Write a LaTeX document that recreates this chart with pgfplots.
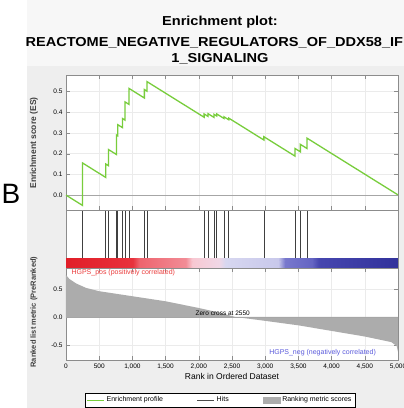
\documentclass[border=0pt]{standalone}
\usepackage{fontspec}
\setmainfont{Liberation Sans}
\usepackage{graphicx}
\usepackage{pgfplots}
\pgfplotsset{compat=1.18}
\definecolor{esgreen}{RGB}{120,205,60}
\definecolor{bg}{RGB}{238,238,238}
\definecolor{framegray}{RGB}{140,140,140}
\definecolor{fillgray}{RGB}{172,172,172}
\definecolor{posred}{RGB}{235,60,60}
\definecolor{negblue}{RGB}{90,90,220}

\pgfplotsset{
  gsea/.style={
    scale only axis, width=332pt, xmin=0, xmax=5000,
    anchor=north west,
    axis background/.style={fill=white},
    axis line style={framegray},
    tick style={framegray},
    tick label style={font=\fontsize{6.5}{7}\selectfont},
    /pgf/number format/assume math mode=true,
    grid style={black!8},
    xtick={0,500,...,5000},
  }
}

\begin{document}
\begin{tikzpicture}
\clip (0,0) rectangle (404pt,-408pt);
\useasboundingbox (0,0) rectangle (404pt,-408pt);
\fill[white] (0,0) rectangle (404pt,-408pt);
\fill[black!3] (27pt,0pt) rectangle (404pt,-66pt);
\fill[bg] (27pt,-66pt) rectangle (404pt,-408pt);

% panel letter and title
\node[font=\fontsize{28}{30}\selectfont] at (11pt,-194pt) {B};
\node[font=\fontsize{13}{14}\selectfont\bfseries] at (220pt,-22pt) {\scalebox{1.12}[1]{Enrichment plot:}};
\node[anchor=west, font=\fontsize{13}{14}\selectfont\bfseries] at (22pt,-43pt) {\scalebox{1.12}[1]{REACTOME\_NEGATIVE\_REGULATORS\_OF\_DDX58\_IFIH}};
\node[font=\fontsize{13}{14}\selectfont\bfseries] at (220pt,-59pt) {\scalebox{1.12}[1]{1\_SIGNALING}};

% y labels
\node[rotate=90, font=\fontsize{8.5}{9}\selectfont\bfseries, text=black!75] at (34pt,-143pt) {Enrichment score (ES)};
\node[rotate=90, font=\fontsize{7.5}{9}\selectfont\bfseries, text=black!75] at (34pt,-312pt) {Ranked list metric (PreRanked)};

% enrichment score panel
\begin{axis}[gsea, at={(66pt,-75pt)}, height=135pt,
  ymin=-0.072, ymax=0.58,
  ytick={0,0.1,0.2,0.3,0.4,0.5},
  yticklabel style={/pgf/number format/.cd,fixed,fixed zerofill,precision=1},
  xticklabels={}, grid=major]
\addplot[black!35, line width=0.8pt] coordinates {(0,0) (5000,0)};
\addplot[esgreen, line width=1.3pt] coordinates {
 (0,0) (250,-0.05) (250,0.155) (600,0.085) (600,0.15) (640,0.142) (640,0.22)
 (760,0.196) (760,0.29) (780,0.286) (780,0.34) (850,0.326) (850,0.37)
 (890,0.362) (890,0.45) (950,0.438) (950,0.515) (1180,0.469) (1180,0.51)
 (1220,0.502) (1220,0.548) (2080,0.376) (2080,0.392) (2140,0.380) (2140,0.393)
 (2230,0.375) (2230,0.390) (2270,0.382) (2270,0.392) (2380,0.370) (2380,0.378)
 (2450,0.364) (2450,0.372) (2980,0.266) (2980,0.282) (3450,0.188) (3450,0.225)
 (3530,0.209) (3530,0.245) (3630,0.225) (3630,0.275) (5000,0.001)
};
\end{axis}

% hits and colour bar
\begin{axis}[gsea, at={(66pt,-210pt)}, height=58pt,
  ymin=-10, ymax=48, xtick=\empty, ytick=\empty,
  colormap={gsea}{rgb255(0cm)=(225,30,40); rgb255(10cm)=(232,50,60);
    rgb255(11cm)=(238,100,110); rgb255(18cm)=(242,140,150);
    rgb255(19cm)=(248,200,210); rgb255(23cm)=(240,215,230);
    rgb255(24cm)=(215,215,240); rgb255(32cm)=(200,200,235);
    rgb255(33cm)=(120,120,205); rgb255(37cm)=(100,100,195);
    rgb255(38cm)=(70,70,175); rgb255(50cm)=(50,50,155)},
  point meta min=0, point meta max=5000]
\addplot[surf, shader=interp, mesh/rows=2, point meta=x] table {
x y
0 -10
1050 -10
1880 -10
1910 -10
2330 -10
2360 -10
3210 -10
3240 -10
3730 -10
3760 -10
5000 -10
0 0
1050 0
1880 0
1910 0
2330 0
2360 0
3210 0
3240 0
3730 0
3760 0
5000 0
};
\addplot[ycomb, black!75, line width=0.7pt, mark=none] coordinates {
 (250,47) (600,47) (640,47) (760,47) (780,47) (850,47) (890,47) (950,47)
 (1180,47) (1220,47) (2080,47) (2140,47) (2230,47) (2270,47) (2380,47)
 (2450,47) (2980,47) (3450,47) (3530,47) (3630,47)
};
\end{axis}

% ranked list metric panel
\begin{axis}[gsea, at={(66pt,-268pt)}, height=92pt,
  ymin=-0.77, ymax=0.875,
  ytick={-0.5,0,0.5},
  yticklabel style={/pgf/number format/.cd,fixed,fixed zerofill,precision=1},
  grid=major,
  xlabel={Rank in Ordered Dataset},
  xlabel style={font=\fontsize{8.5}{9}\selectfont, yshift=2pt},
  legend style={at={(0.464,-0.36)}, anchor=north, draw=black, fill=white,
    font=\fontsize{7}{8}\selectfont, inner sep=1.5pt},
  legend columns=3,
  legend cell align=left,
  /tikz/every even column/.append style={column sep=32pt}]
\addlegendimage{esgreen, line width=1pt}
\addlegendentry{Enrichment profile}
\addlegendimage{black!70, line width=0.6pt}
\addlegendentry{Hits}
\addlegendimage{area legend, fill=fillgray, draw=fillgray}
\addlegendentry{Ranking metric scores}
\addplot[fill=fillgray, draw=none, forget plot] coordinates {
 (0,0.75) (50,0.68) (150,0.60) (300,0.52) (500,0.46) (1000,0.37)
 (1500,0.28) (2000,0.16) (2300,0.08) (2550,0) (3000,-0.07) (3500,-0.15)
 (4000,-0.25) (4500,-0.35) (4900,-0.45) (4980,-0.52) (5000,-0.62)
} \closedcycle;
\addplot[black!35, line width=0.8pt, forget plot] coordinates {(0,0) (5000,0)};
\node[font=\fontsize{6.5}{7}\selectfont] at (axis cs:2360,0.07) {Zero cross at 2550};
\node[anchor=west, text=posred, font=\fontsize{7}{8}\selectfont] at (axis cs:30,0.79) {HGPS\_pos (positively correlated)};
\node[anchor=east, text=negblue, font=\fontsize{7}{8}\selectfont] at (axis cs:4720,-0.64) {HGPS\_neg (negatively correlated)};
\end{axis}
\end{tikzpicture}
\end{document}
